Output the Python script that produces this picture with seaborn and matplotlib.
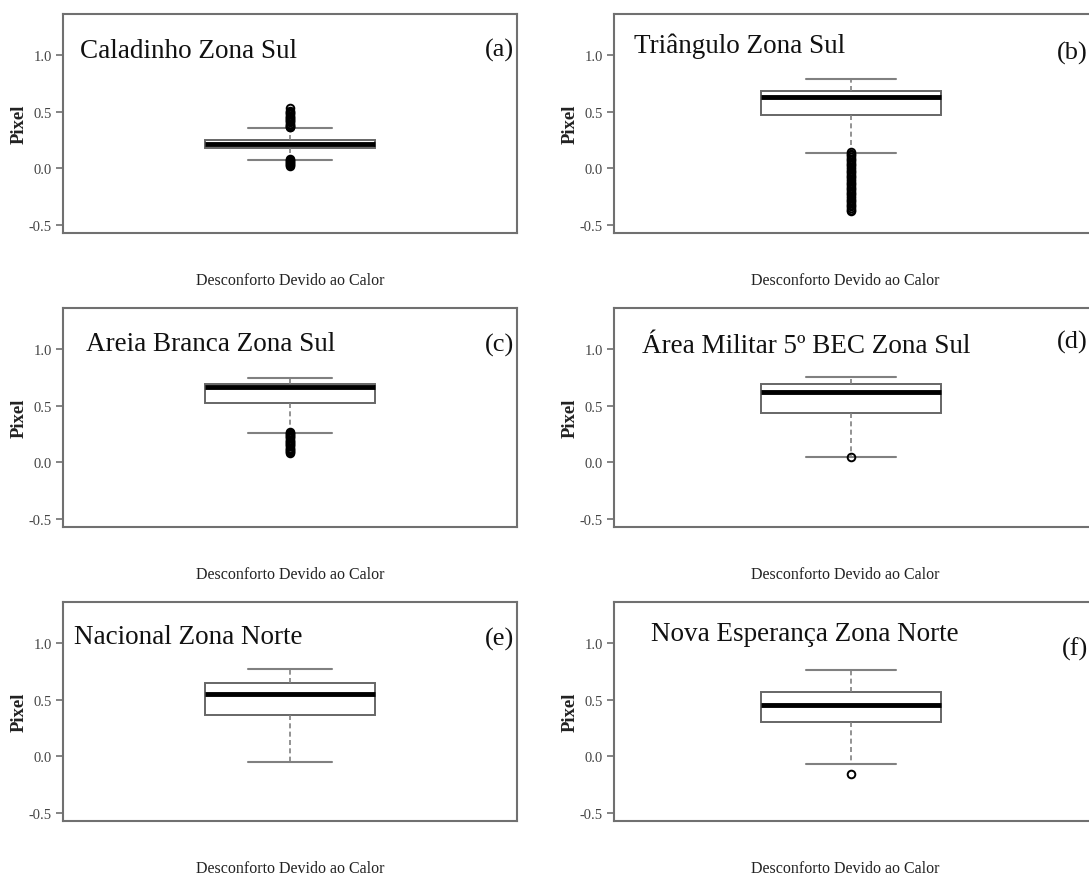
import numpy as np
import matplotlib.pyplot as plt
import seaborn as sns

sns.set_style("ticks")
plt.rcParams['font.family'] = ['Liberation Serif', 'DejaVu Serif']

titles = ['Caladinho Zona Sul', 'Triângulo Zona Sul', 'Areia Branca Zona Sul',
          'Área Militar 5º BEC Zona Sul', 'Nacional Zona Norte', 'Nova Esperança Zona Norte']
tags = ['(a)', '(b)', '(c)', '(d)', '(e)', '(f)']
xlabel = 'Desconforto Devido ao Calor'
ylabel = 'Pixel'
yticks = [-0.5, 0.0, 0.5, 1.0]

# lower whisker, Q1, median, Q3, upper whisker
stats_a = [0.075, 0.177, 0.211, 0.247, 0.353]
stats_b = [0.136, 0.466, 0.628, 0.685, 0.783]
stats_c = [0.259, 0.524, 0.667, 0.693, 0.741]
stats_d = [0.050, 0.438, 0.616, 0.690, 0.753]
stats_e = [-0.047, 0.364, 0.550, 0.642, 0.769]
stats_f = [-0.068, 0.305, 0.456, 0.571, 0.760]

# outliers (the dense runs are sampled along their extent)
out_a = [0.535, 0.505, 0.495, 0.485, 0.475, 0.465, 0.455, 0.445, 0.435, 0.425, 0.415,
         0.405, 0.395, 0.385, 0.375, 0.365, 0.36,
         0.085, 0.075, 0.065, 0.055, 0.045, 0.035, 0.025, 0.02]
out_b = [0.145, 0.13, 0.115, 0.10, 0.085, 0.07, 0.055, 0.04, 0.025, 0.01, -0.005, -0.02,
         -0.035, -0.05, -0.065, -0.08, -0.095, -0.11, -0.125, -0.14, -0.155, -0.17,
         -0.185, -0.20, -0.215, -0.23, -0.245, -0.26, -0.275, -0.29, -0.305, -0.32,
         -0.335, -0.35, -0.365, -0.375]
out_c = [0.27, 0.26, 0.25, 0.24, 0.23, 0.22, 0.21, 0.20, 0.19, 0.18, 0.17, 0.16, 0.15,
         0.14, 0.13, 0.12, 0.11, 0.10, 0.09, 0.08]
out_d = [0.05]
out_e = []
out_f = [-0.154]

stats = [stats_a, stats_b, stats_c, stats_d, stats_e, stats_f]
outs = [out_a, out_b, out_c, out_d, out_e, out_f]

# layout (pixels of a 1089x878 canvas)
W, H = 1089, 878
lefts = [63, 614]
widths = [454, 486]
tops = [15, 309, 603]
ah = 219
# x limits place the box where it sits in each column
xlims = [(-0.5, 0.5), (-0.488, 0.512)]
box_w = [0.374, 0.37]
xlab_x = [0.5, 0.475]
title_pos = [(0.037, 0.805), (0.041, 0.827), (0.05, 0.81),
             (0.058, 0.80), (0.024, 0.813), (0.076, 0.828)]
tag_pos = [(0.993, 0.84), (0.975, 0.825), (0.993, 0.835),
           (0.975, 0.845), (0.993, 0.835), (0.975, 0.79)]

frame = '#707070'
fig = plt.figure(figsize=(W / 100, H / 100), dpi=100)

for i in range(6):
    r, c = divmod(i, 2)
    ax = fig.add_axes([lefts[c] / W, 1 - (tops[r] + ah) / H, widths[c] / W, ah / H])
    sns.boxplot(y=stats[i], ax=ax, whis=(0, 100), width=box_w[c], color='white',
                linecolor='#666666', linewidth=1.4, showfliers=False,
                medianprops=dict(color='black', linewidth=3.5),
                whiskerprops=dict(color='#808080', linewidth=1.2, linestyle=(0, (3, 2))),
                capprops=dict(color='#808080', linewidth=1.5))
    if outs[i]:
        ax.plot(np.zeros(len(outs[i])), outs[i], 'o', ms=5.5, mfc='none',
                mec='black', mew=1.4, zorder=5)
    ax.set_xlim(*xlims[c])
    ax.set_ylim(-0.57, 1.36)
    ax.set_xticks([])
    ax.set_yticks(yticks)
    ax.set_yticklabels([f'{t:.1f}' for t in yticks], fontsize=10.5, color='#444444')
    ax.tick_params(axis='y', length=5, width=1.2, color=frame, pad=3)
    for s in ax.spines.values():
        s.set_visible(True)
        s.set_color(frame)
        s.set_linewidth(1.5)
    ax.set_ylabel(ylabel, fontsize=13.5, fontweight='bold', color='#222222')
    ax.yaxis.set_label_coords(-27 / widths[c] * 1.3, 0.5)
    ax.set_xlabel(xlabel, fontsize=11.5, color='#222222')
    ax.xaxis.set_label_coords(xlab_x[c], -0.18)
    ax.text(title_pos[i][0], title_pos[i][1], titles[i], transform=ax.transAxes,
            fontsize=19.5, ha='left', va='baseline', color='#111111')
    ax.text(tag_pos[i][0], tag_pos[i][1], tags[i], transform=ax.transAxes,
            fontsize=19, ha='right', va='center', color='#111111')

fig.savefig('out.png', dpi=100)
